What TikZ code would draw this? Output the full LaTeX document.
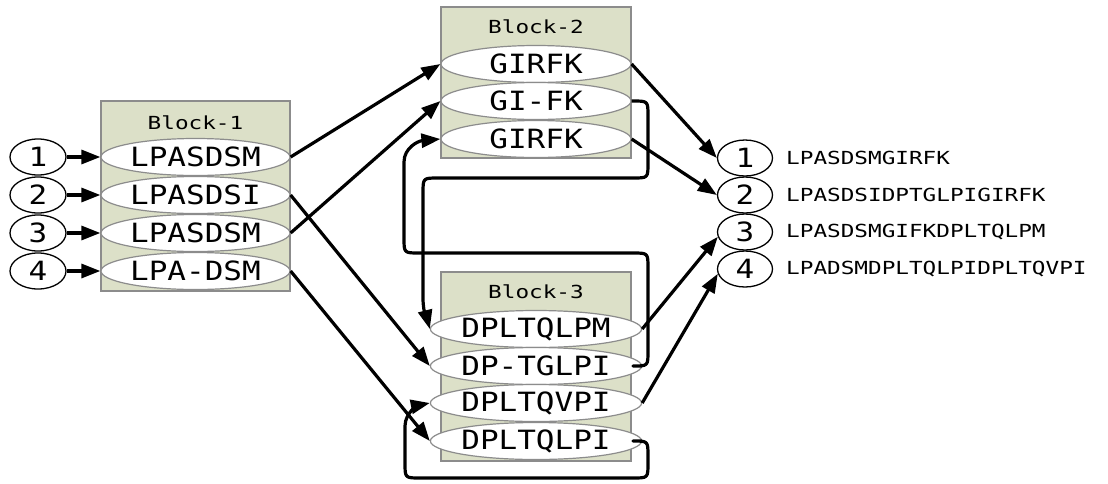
\documentclass[tikz,border=0pt]{standalone}
\usepackage{fontspec}
\newfontfamily\monobig[FakeStretch=1.17]{DejaVu Sans Mono}
\newfontfamily\monosmall[FakeStretch=1.26]{DejaVu Sans Mono}
\usetikzlibrary{arrows.meta,shapes.geometric}
\definecolor{blockfill}{HTML}{DCE0C8}
\definecolor{blockline}{HTML}{8C8C8C}
\tikzset{
  blockbox/.style={draw=blockline, fill=blockfill, line width=1.2pt, inner sep=0pt},
  blocktitle/.style={font=\monosmall\fontsize{18}{20}\selectfont, inner sep=0pt},
  seg/.style={ellipse, draw=blockline, fill=white, line width=1.2pt, minimum width=189pt, minimum height=37pt, inner sep=0pt, font=\monobig\fontsize{26.5}{30}\selectfont},
  num/.style={ellipse, draw=black, fill=white, line width=1.3pt, minimum width=56pt, minimum height=36pt, inner sep=0pt, font=\monobig\fontsize{26.5}{30}\selectfont},
  outlab/.style={anchor=west, inner sep=0pt, font=\monosmall\fontsize{18}{20}\selectfont},
  conn/.style={draw=black, line width=3.2pt, line join=round, -{Triangle[length=19pt,width=14pt]}},
}
\begin{document}
\begin{tikzpicture}[x=1pt,y=-1pt]
\useasboundingbox (0,0) rectangle (1108,483);
% blocks
\node[blockbox, minimum width=189pt, minimum height=190pt] (B1) at (195.5,196) {};
\node[blockbox, minimum width=190pt, minimum height=151pt] (B2) at (536,82.5) {};
\node[blockbox, minimum width=190pt, minimum height=189pt] (B3) at (536,366.5) {};
\node[blocktitle] (t1) at (195.5,123) {Block-1};
\node[blocktitle] (t2) at (536,27) {Block-2};
\node[blocktitle] (t3) at (536,292) {Block-3};
% block 1 segments
\node[seg] (b1a) at (195.5,157) {LPASDSM};
\node[seg] (b1b) at (195.5,195) {LPASDSI};
\node[seg] (b1c) at (195.5,233) {LPASDSM};
\node[seg] (b1d) at (195.5,271) {LPA-DSM};
% block 2 segments
\node[seg, minimum width=190pt] (b2a) at (536,64) {GIRFK};
\node[seg, minimum width=190pt] (b2b) at (536,101) {GI-FK};
\node[seg, minimum width=190pt] (b2c) at (536,139) {GIRFK};
% block 3 segments
\node[seg, minimum width=190pt] (b3a) at (536,329) {DPLTQLPM};
\node[seg, minimum width=190pt] (b3b) at (536,366) {DP-TGLPI};
\node[seg, minimum width=190pt] (b3c) at (536,403) {DPLTQVPI};
\node[seg, minimum width=190pt] (b3d) at (536,441) {DPLTQLPI};
% input numbers
\node[num] (i1) at (38,157) {1};
\node[num] (i2) at (38,195) {2};
\node[num] (i3) at (38,233) {3};
\node[num] (i4) at (38,271) {4};
% output numbers
\node[num, minimum width=55pt] (o1) at (745,158) {1};
\node[num, minimum width=55pt] (o2) at (745,195) {2};
\node[num, minimum width=55pt] (o3) at (745,232) {3};
\node[num, minimum width=55pt] (o4) at (745,269) {4};
\node[outlab] (l1) at (786,158) {LPASDSMGIRFK};
\node[outlab] (l2) at (786,195) {LPASDSIDPTGLPIGIRFK};
\node[outlab] (l3) at (786,232) {LPASDSMGIFKDPLTQLPM};
\node[outlab] (l4) at (786,269) {LPADSMDPLTQLPIDPLTQVPI};
% input arrows
\draw[conn] (i1.east) -- (b1a.west);
\draw[conn] (i2.east) -- (b1b.west);
\draw[conn] (i3.east) -- (b1c.west);
\draw[conn] (i4.east) -- (b1d.west);
% block 1 -> others
\draw[conn] (b1a.east) -- (b2a.west);
\draw[conn] (b1b.east) -- (b3b.west);
\draw[conn] (b1c.east) -- (b2b.west);
\draw[conn] (b1d.east) -- (b3d.west);
% to outputs
\draw[conn] (b2a.east) -- (o1.west);
\draw[conn] (b2c.east) -- (o2.west);
\draw[conn] (b3a.east) -- (o3.190);
\draw[conn] (b3c.east) -- (o4.190);
% loops
\draw[conn] (b2b.east) -- (633,101) .. controls (648,101) .. (648,116) -- (648,163) .. controls (648,178) .. (633,178) -- (438,178) .. controls (423,178) .. (423,193) -- (423,298) .. controls (423,314) and (428,322) .. (b3a.west);
\draw[conn] (b3b.east) -- (633,366) .. controls (648,366) .. (648,351) -- (648,268) .. controls (648,253) .. (633,253) -- (419,253) .. controls (404,253) .. (404,238) -- (404,162) .. controls (404,148) and (418,141) .. (b2c.west);
\draw[conn] (b3d.east) -- (633,441) .. controls (648,441) .. (648,456) -- (648,463) .. controls (648,478) .. (633,478) -- (420,478) .. controls (405,478) .. (405,463) -- (405,426) .. controls (405,412) and (420,405) .. (b3c.west);
\end{tikzpicture}
\end{document}
